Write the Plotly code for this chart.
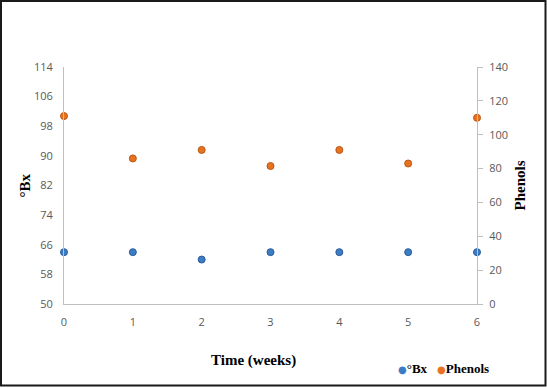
import plotly.graph_objects as go

weeks = [0, 1, 2, 3, 4, 5, 6]
brix = [64, 64, 62, 64, 64, 64, 64]
phenols = [111, 86, 91, 81.5, 91, 83, 110]

bx_ticks = [50, 58, 66, 74, 82, 90, 98, 106, 114]
ph_ticks = [0, 20, 40, 60, 80, 100, 120, 140]

series_names = ["°Bx", "Phenols"]
series_colors = ["#3c7cc4", "#e8731f"]
series_edges = ["#2b5d99", "#b95515"]

W, H = 547, 388
L, R, T, B = 64, 70, 67, 84
pw, ph = W - L - R, H - T - B


def px(x):
    return (x - L) / pw


def py(y):
    return 1 - (y - T) / ph


tick_font = dict(family="Open Sans, Lato, sans-serif", size=11, color="#595959")
title_font = dict(family="Liberation Serif, Times New Roman, serif", size=15, color="#000000")
legend_font = dict(family="Liberation Serif, Times New Roman, serif", size=13, color="#000000")

fig = go.Figure()
fig.add_trace(go.Scatter(
    x=weeks, y=brix, name=series_names[0], mode="markers",
    marker=dict(size=7, color=series_colors[0], line=dict(color=series_edges[0], width=1)),
    yaxis="y", cliponaxis=False,
))
fig.add_trace(go.Scatter(
    x=weeks, y=phenols, name=series_names[1], mode="markers",
    marker=dict(size=7, color=series_colors[1], line=dict(color=series_edges[1], width=1)),
    yaxis="y2", cliponaxis=False,
))

legend_x = [396, 435]
legend_ann = [
    dict(text=(f"<span style='color:{c};font-family:DejaVu Sans;font-size:10px'>●</span>"
               f"<b>{n}</b>"),
         xref="paper", yref="paper", x=px(x0), y=py(368), showarrow=False,
         font=legend_font, xanchor="left", yanchor="middle")
    for n, c, x0 in zip(series_names, series_colors, legend_x)
]

fig.update_layout(
    width=W, height=H,
    margin=dict(l=L, r=R, t=T, b=B, autoexpand=False),
    paper_bgcolor="white", plot_bgcolor="white",
    showlegend=False,
    xaxis=dict(
        range=[0, 6], tickvals=weeks, ticktext=[str(w) for w in weeks],
        showgrid=False, zeroline=False, showline=True, linecolor="#bfbfbf", linewidth=1,
        ticks="", tickfont=tick_font, ticklabelstandoff=8, automargin=False,
    ),
    yaxis=dict(
        range=[50, 114], tickvals=bx_ticks, showgrid=False, zeroline=False,
        showline=True, linecolor="#bfbfbf", linewidth=1, ticks="",
        tickfont=tick_font, ticklabelstandoff=8, automargin=False,
    ),
    yaxis2=dict(
        range=[0, 140], tickvals=ph_ticks, overlaying="y", side="right",
        showgrid=False, zeroline=False, showline=True, linecolor="#bfbfbf", linewidth=1,
        ticks="outside", ticklen=5, tickcolor="#bfbfbf", automargin=False,
        tickfont=tick_font, ticklabelstandoff=4,
    ),
    annotations=[
        dict(text="<b>°Bx</b>", xref="paper", yref="paper", x=px(24), y=0.5,
             textangle=-90, showarrow=False, font=title_font,
             xanchor="center", yanchor="middle"),
        dict(text="<b>Phenols</b>", xref="paper", yref="paper", x=px(519), y=0.5,
             textangle=-90, showarrow=False, font=title_font,
             xanchor="center", yanchor="middle"),
        dict(text="<b>Time (weeks)</b>", xref="paper", yref="paper", x=px(253), y=py(360),
             showarrow=False, font=title_font, xanchor="center", yanchor="middle"),
    ] + legend_ann,
    shapes=[dict(
        type="rect", xref="paper", yref="paper",
        x0=px(1), x1=px(545.5),
        y0=py(385.5), y1=py(1),
        line=dict(color="#1a1a1a", width=2), fillcolor="rgba(0,0,0,0)", layer="above",
    )],
)

fig.write_html("out.html", config={"displayModeBar": False},
               post_script="document.body.style.margin='0';")
